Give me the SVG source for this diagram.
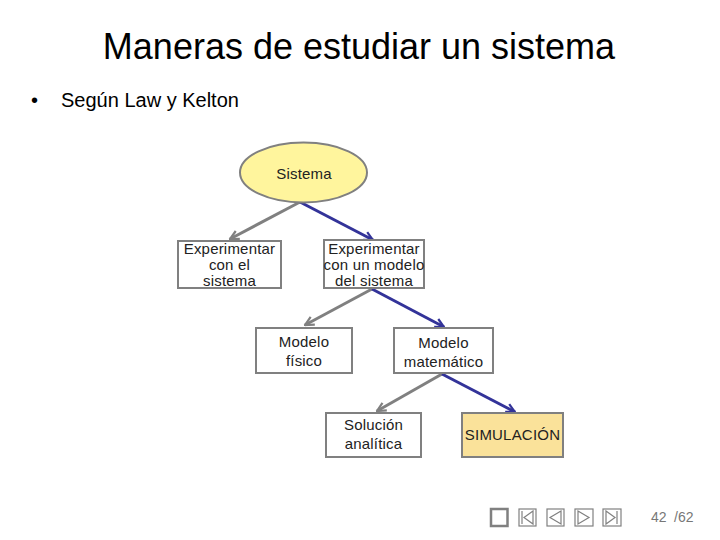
<svg xmlns="http://www.w3.org/2000/svg" width="720" height="540" viewBox="0 0 720 540">
<defs>
<style>
.title{font-family:"Liberation Sans",Arial,sans-serif;font-size:36px;fill:#000}
.bul{font-family:"Liberation Sans",Arial,sans-serif;font-size:20px;fill:#000}
.nt{font-family:"Liberation Sans",Arial,sans-serif;font-size:15px;fill:#222;text-anchor:middle;letter-spacing:0.2px}
.box{fill:#fff;stroke:#808080;stroke-width:2}
.g{stroke:#808080;stroke-width:3;fill:none}
.b{stroke:#333399;stroke-width:3;fill:none}
.nav{fill:#fff;stroke:#808080;stroke-width:1.2}
.navi{fill:none;stroke:#808080;stroke-width:1.2}
.pg{font-family:"Liberation Sans",Arial,sans-serif;font-size:14px;fill:#777}
</style>
<marker id="mg" viewBox="0 0 10 10" refX="9" refY="5" markerWidth="11" markerHeight="11" markerUnits="userSpaceOnUse" orient="auto">
<path d="M1,1 L9,5 L1,9" fill="none" stroke="#808080" stroke-width="2"/>
</marker>
<marker id="mb" viewBox="0 0 10 10" refX="9" refY="5" markerWidth="11" markerHeight="11" markerUnits="userSpaceOnUse" orient="auto">
<path d="M1,1 L9,5 L1,9" fill="none" stroke="#333399" stroke-width="2"/>
</marker>
</defs>
<rect width="720" height="540" fill="#fff"/>
<text class="title" x="359" y="59" text-anchor="middle">Maneras de estudiar un sistema</text>
<text class="bul" x="31" y="107">•</text>
<text class="bul" x="61" y="107">Según Law y Kelton</text>

<g id="connectors">
<line class="g" x1="300" y1="202" x2="230" y2="239" marker-end="url(#mg)"/>
<line class="b" x1="300" y1="202" x2="373" y2="240" marker-end="url(#mb)"/>
<line class="g" x1="372" y1="289" x2="305" y2="325" marker-end="url(#mg)"/>
<line class="b" x1="372" y1="289" x2="444" y2="327" marker-end="url(#mb)"/>
<line class="g" x1="442" y1="374" x2="377" y2="411" marker-end="url(#mg)"/>
<line class="b" x1="442" y1="374" x2="515" y2="412" marker-end="url(#mb)"/>
</g>

<g id="sistema">
<ellipse cx="303.5" cy="172.5" rx="63.5" ry="30" fill="#FFF59D" stroke="#808080" stroke-width="2"/>
<text class="nt" x="304" y="179">Sistema</text>
</g>
<g id="exp-sistema">
<rect class="box" x="178" y="241" width="103" height="47"/>
<text class="nt" x="229.5" y="254">Experimentar</text>
<text class="nt" x="229.5" y="270">con el</text>
<text class="nt" x="229.5" y="286">sistema</text>
</g>
<g id="exp-modelo">
<rect class="box" x="324" y="240" width="100" height="48"/>
<text class="nt" x="374" y="254">Experimentar</text>
<text class="nt" x="374" y="270">con un modelo</text>
<text class="nt" x="374" y="286">del sistema</text>
</g>
<g id="modelo-fisico">
<rect class="box" x="256" y="328" width="96" height="45"/>
<text class="nt" x="304" y="347">Modelo</text>
<text class="nt" x="304" y="366">físico</text>
</g>
<g id="modelo-matematico">
<rect class="box" x="394" y="328" width="99" height="45"/>
<text class="nt" x="443.5" y="348">Modelo</text>
<text class="nt" x="443.5" y="367">matemático</text>
</g>
<g id="solucion">
<rect class="box" x="326" y="413" width="95" height="44"/>
<text class="nt" x="373.5" y="430">Solución</text>
<text class="nt" x="373.5" y="449">analítica</text>
</g>
<g id="simulacion">
<rect x="462" y="413" width="101" height="44" fill="#FAE29A" stroke="#808080" stroke-width="2"/>
<text class="nt" x="512.5" y="440">SIMULACIÓN</text>
</g>

<g id="navbar">
<rect x="491" y="509" width="16.5" height="17" fill="#fff" stroke="#808080" stroke-width="2.5"/>
<rect class="nav" x="519" y="509" width="17" height="17"/>
<line class="navi" x1="522" y1="511" x2="522" y2="524"/>
<path class="navi" d="M533,511 L524,517.5 L533,524 Z"/>
<rect class="nav" x="547" y="509" width="17" height="17"/>
<path class="navi" d="M561,511 L550,517.5 L561,524 Z"/>
<rect class="nav" x="575" y="509" width="18" height="17"/>
<path class="navi" d="M578,511 L589,517.5 L578,524 Z"/>
<rect class="nav" x="603" y="509" width="18" height="17"/>
<path class="navi" d="M606,511 L615,517.5 L606,524 Z"/>
<line class="navi" x1="617" y1="511" x2="617" y2="524"/>
<text class="pg" x="651" y="522">42</text>
<text class="pg" x="674" y="522">/62</text>
</g>
</svg>
